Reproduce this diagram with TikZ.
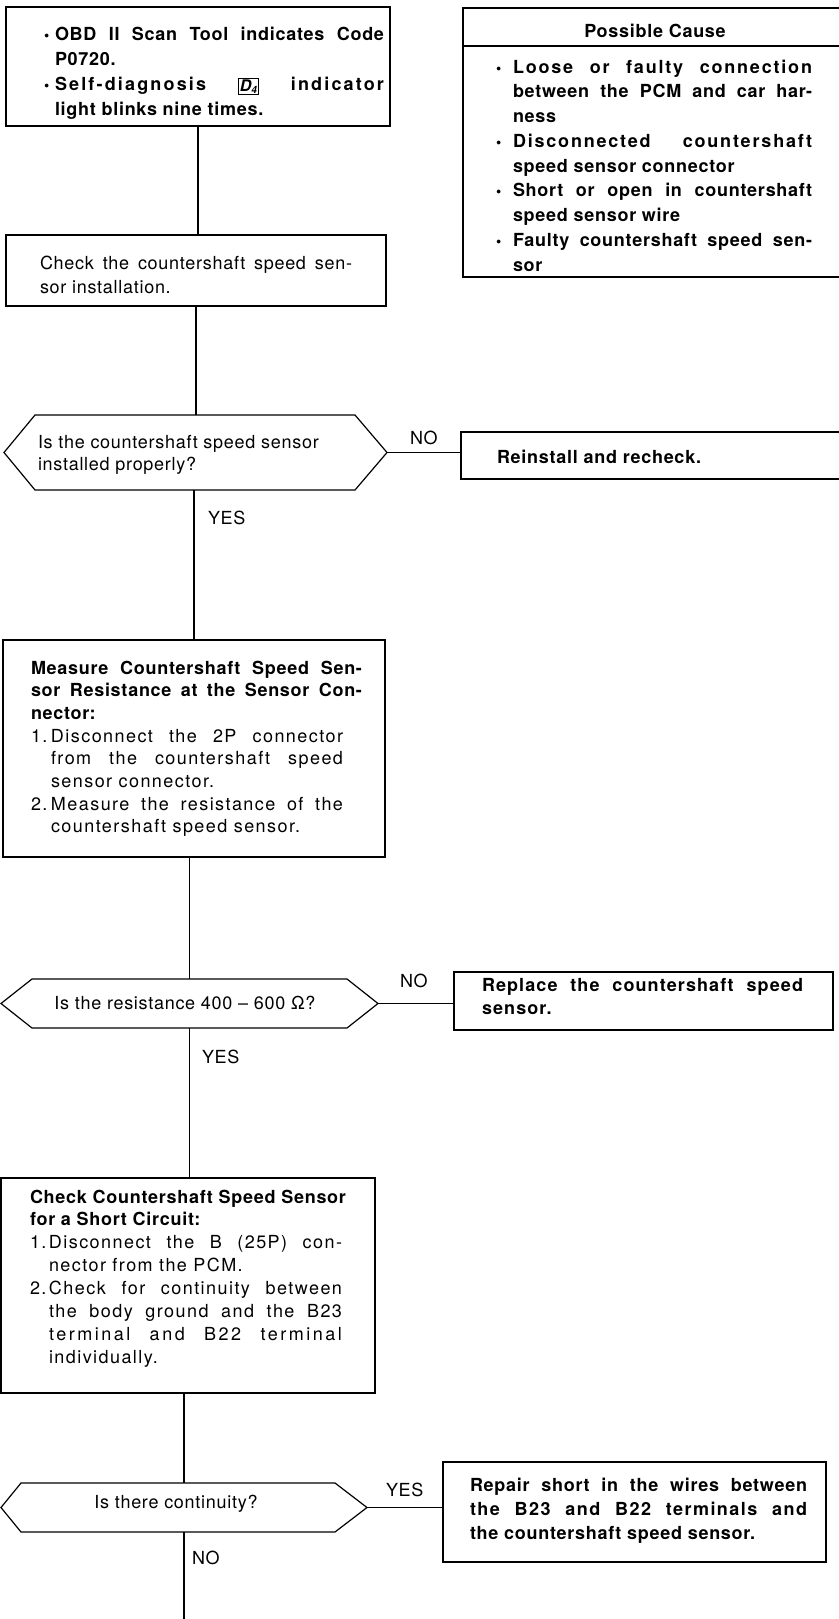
\documentclass[tikz,border=0pt]{standalone}
\usepackage{fontspec}
\setmainfont{TeX Gyre Heros}[LetterSpace=4]
\newcommand{\ls}[1]{\addfontfeature{LetterSpace=#1}}
\newcommand{\fl}{\rule{0pt}{14pt}}
\newcommand{\bul}{{\fontsize{15}{15}\selectfont\textbullet}}
\newcommand{\dfour}{{\setlength{\fboxsep}{1.3pt}\setlength{\fboxrule}{0.9pt}\raisebox{-1.5pt}{\fbox{\fontsize{16}{16}\selectfont\itshape D\raisebox{-1.5pt}{\fontsize{10}{10}\selectfont 4}}}}}
\tikzset{
  ln/.style={line width=1.2pt},
  frame/.style={draw, line width=1.2pt, inner sep=0pt, outer sep=0pt},
  area/.style={inner sep=0pt, outer sep=0pt},
  txt/.style={inner sep=0pt, outer sep=0pt, anchor=north west, font=\fontsize{18}{22}\selectfont},
  lbl/.style={inner sep=0pt, outer sep=0pt, anchor=west, font=\fontsize{18}{22}\selectfont},
}
\begin{document}
\begin{tikzpicture}[x=1pt,y=-1pt]
\useasboundingbox (0,0) rectangle (838,1619);
% boxes
\node[frame, minimum width=384pt, minimum height=119pt] (b1) at (198,66.5) {};
\node[frame, minimum width=380pt, minimum height=71pt] (b2) at (196,270.5) {};
\node[frame, minimum width=382pt, minimum height=269pt] (pc) at (654,142.5) {};
\node[area, minimum width=383pt, minimum height=75pt] (d1) at (195.5,452.5) {};
\node[frame, minimum width=384pt, minimum height=47pt] (r1) at (653,455.5) {};
\node[frame, minimum width=382pt, minimum height=217pt] (b3) at (194,748.5) {};
\node[area, minimum width=377pt, minimum height=49pt] (d2) at (189.5,1003.5) {};
\node[frame, minimum width=379pt, minimum height=58pt] (r2) at (643.5,1001) {};
\node[frame, minimum width=374pt, minimum height=215pt] (b4) at (188,1285.5) {};
\node[area, minimum width=366pt, minimum height=49pt] (d3) at (184,1507.5) {};
\node[frame, minimum width=383pt, minimum height=100pt] (r3) at (634.5,1512) {};
\coordinate (e) at (184,1625);
% hexagons
\draw[ln] ([xshift=31pt]d1.north west) -- ([xshift=-32pt]d1.north east) -- (d1.east) -- ([xshift=-32pt]d1.south east) -- ([xshift=31pt]d1.south west) -- (d1.west) -- cycle;
\draw[ln] ([xshift=31pt]d2.north west) -- ([xshift=-31pt]d2.north east) -- (d2.east) -- ([xshift=-31pt]d2.south east) -- ([xshift=31pt]d2.south west) -- (d2.west) -- cycle;
\draw[ln] ([xshift=20pt]d3.north west) -- ([xshift=-32pt]d3.north east) -- (d3.east) -- ([xshift=-32pt]d3.south east) -- ([xshift=20pt]d3.south west) -- (d3.west) -- cycle;
% header rule
\draw[ln] ([yshift=-38pt]pc.north west) -- ([yshift=-38pt]pc.north east);
% connectors
\draw[ln] (b1.south) -- (b1.south |- b2.north);
\draw[ln] (b2.south) -- (b2.south |- d1.north);
\draw[ln] (b3.north |- d1.south) -- (b3.north);
\draw[ln] (d2.north |- b3.south) -- (d2.north);
\draw[ln] (d2.south) -- (d2.south |- b4.north);
\draw[ln] (d3.north |- b4.south) -- (d3.north);
\draw[ln] (d3.south) -- (e);
\draw[ln] (d1.east) -- (d1.east -| r1.west);
\draw[ln] (d2.east) -- (d2.east -| r2.west);
\draw[ln] (d3.east) -- (d3.east -| r3.west);
% texts
\node[txt] (t1) at (44,26) {\vbox{\bfseries\baselineskip=25pt
\hbox to 340pt{\fl\hbox to 11pt{\bul\hfil}OBD II Scan Tool indicates Code}
\hbox{\hspace*{11pt}P0720.}
\hbox to 340pt{\hbox to 11pt{\bul\hfil}{\ls{12}Self-diagnosis} \dfour{} {\ls{12}indicator}}
\hbox{\hspace*{11pt}light blinks nine times.}}};
\node[txt] (t2) at (40,255) {\vbox{\baselineskip=24pt
\hbox to 312pt{\fl Check the countershaft speed sen-}
\hbox{sor installation.}}};
\node[inner sep=0pt, font=\fontsize{18}{22}\selectfont\bfseries] (pch) at (655,31) {Possible Cause};
\node[txt] (tpc) at (496,59) {\vbox{\bfseries\baselineskip=24.75pt
\hbox to 316pt{\fl\hbox to 17pt{\bul\hfil}{\ls{10}Loose or faulty connection}}
\hbox to 316pt{\hspace*{17pt}between the PCM and car har-}
\hbox{\hspace*{17pt}ness}
\hbox to 316pt{\hbox to 17pt{\bul\hfil}{\ls{10}Disconnected countershaft}}
\hbox{\hspace*{17pt}speed sensor connector}
\hbox to 316pt{\hbox to 17pt{\bul\hfil}Short or open in countershaft}
\hbox{\hspace*{17pt}speed sensor wire}
\hbox to 316pt{\hbox to 17pt{\bul\hfil}Faulty countershaft speed sen-}
\hbox{\hspace*{17pt}sor}}};
\node[txt] (td1) at (38,434) {\vbox{\baselineskip=22pt
\hbox{\fl Is the countershaft speed sensor}
\hbox{installed properly?}}};
\node[lbl, anchor=base west, font=\fontsize{18}{22}\selectfont\bfseries] (tr1) at (497,463) {Reinstall and recheck.};
\node[txt] (t3) at (31,660) {\vbox{\baselineskip=22.7pt
\hbox to 331pt{\fl\bfseries Measure Countershaft Speed Sen-}
\hbox to 331pt{\bfseries sor Resistance at the Sensor Con-}
\hbox{\bfseries nector:}
\ls{8}
\hbox to 312pt{\hbox to 20pt{1.\hfil}Disconnect the 2P connector}
\hbox to 312pt{\hspace*{20pt}from the countershaft speed}
\hbox{\hspace*{20pt}sensor connector.}
\hbox to 312pt{\hbox to 20pt{2.\hfil}Measure the resistance of the}
\hbox{\hspace*{20pt}countershaft speed sensor.}}};
\node[lbl, anchor=base] (td2) at (185,1009) {Is the resistance 400 – 600 Ω?};
\node[txt] (tr2) at (482,977) {\vbox{\bfseries\baselineskip=23pt
\hbox to 321pt{\fl\ls{6}Replace the countershaft speed}
\hbox{\ls{6}sensor.}}};
\node[txt] (t4) at (30,1189) {\vbox{\baselineskip=22.9pt
\hbox{\fl\bfseries Check Countershaft Speed Sensor}
\hbox{\bfseries for a Short Circuit:}
\ls{8}
\hbox to 312pt{\hbox to 19pt{1.\hfil}Disconnect the B (25P) con-}
\hbox{\hspace*{19pt}nector from the PCM.}
\hbox to 312pt{\hbox to 19pt{2.\hfil}Check for continuity between}
\hbox to 312pt{\hspace*{19pt}the body ground and the B23}
\hbox to 312pt{\hspace*{19pt}\ls{14}terminal and B22 terminal}
\hbox{\hspace*{19pt}individually.}}};
\node[lbl, anchor=base] (td3) at (176,1508) {Is there continuity?};
\node[txt] (tr3) at (470,1477) {\vbox{\bfseries\baselineskip=24pt
\hbox to 337pt{\fl Repair short in the wires between}
\hbox to 337pt{\ls{8}the B23 and B22 terminals and}
\hbox{the countershaft speed sensor.}}};
% labels
\node[lbl] (no1) at (410,438) {NO};
\node[lbl] (yes1) at (208,518) {YES};
\node[lbl] (no2) at (400,981) {NO};
\node[lbl] (yes2) at (202,1057) {YES};
\node[lbl] (yes3) at (386,1490) {YES};
\node[lbl] (no3) at (192,1558) {NO};
\end{tikzpicture}
\end{document}
